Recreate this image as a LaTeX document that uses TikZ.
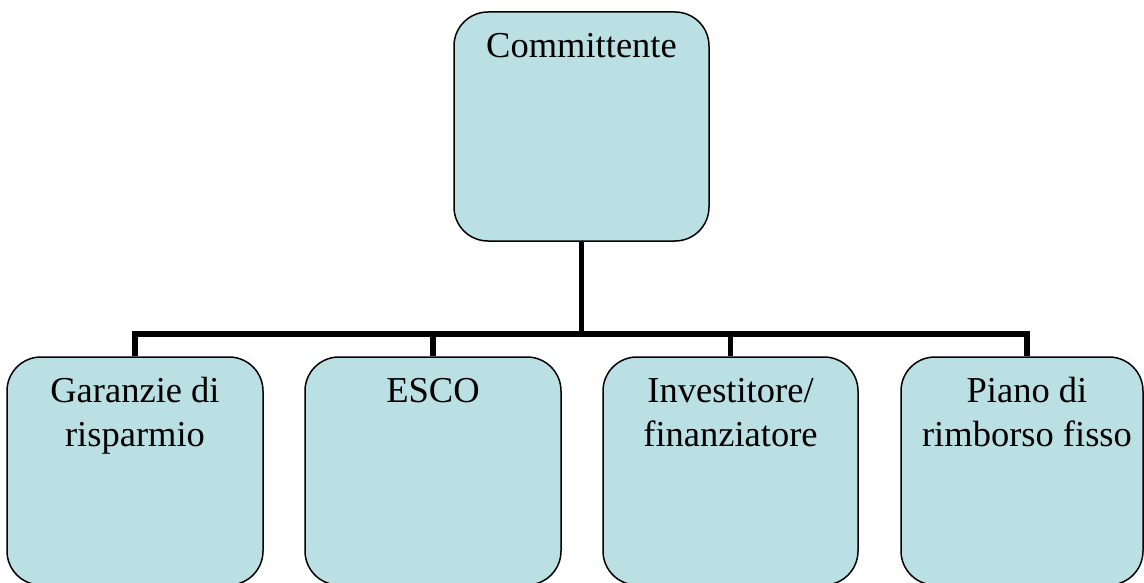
\documentclass[tikz,border=0pt]{standalone}
\usepackage{fontspec}
\setmainfont{Liberation Serif}
\definecolor{boxfill}{RGB}{187,224,227}
\tikzset{
  box/.style={draw=black, line width=1.5pt, fill=boxfill, rounded corners=34pt,
              inner sep=0pt, minimum height=228pt},
  lbl/.style={anchor=north, yshift=-15.2pt, align=center, inner sep=0pt,
              font=\fontsize{36.5}{44}\selectfont},
  conn/.style={draw=black, line width=5.5pt, line join=miter},
}
\begin{document}
\begin{tikzpicture}[x=1pt, y=-1pt]
  \useasboundingbox (0,0) rectangle (1144,583);
  \fill[white] (0,0) rectangle (1144,583);
  \clip (0,0) rectangle (1144,583);

  % top-level box
  \node[box, minimum width=255pt, minimum height=229pt,
        label={[lbl]north:\strut Committente}] (top) at (581.5,126.5) {};

  % second-level boxes
  \node[box, minimum width=256pt, label={[lbl]north:\strut Garanzie di\\risparmio}] (b1) at (135,471) {};
  \node[box, minimum width=256pt, label={[lbl]north:\strut ESCO}] (b2) at (433,471) {};
  \node[box, minimum width=255pt, label={[lbl]north:\strut Investitore/\\finanziatore}] (b3) at (730.5,471) {};
  \node[box, minimum width=242pt, label={[lbl, xshift=5pt]north:\strut Piano di\\rimborso fisso}] (b4) at (1022,471) {};

  % connector bus
  \coordinate (bus) at (0,334);
  \coordinate (b4top) at ([xshift=5pt]b4.north);
  \draw[conn] (top.south) -- (top.south |- bus);
  \draw[conn] (b1.north) -- (b1.north |- bus) -- (b4top |- bus) -- (b4top);
  \draw[conn] (b2.north) -- (b2.north |- bus);
  \draw[conn] (b3.north) -- (b3.north |- bus);
\end{tikzpicture}
\end{document}
